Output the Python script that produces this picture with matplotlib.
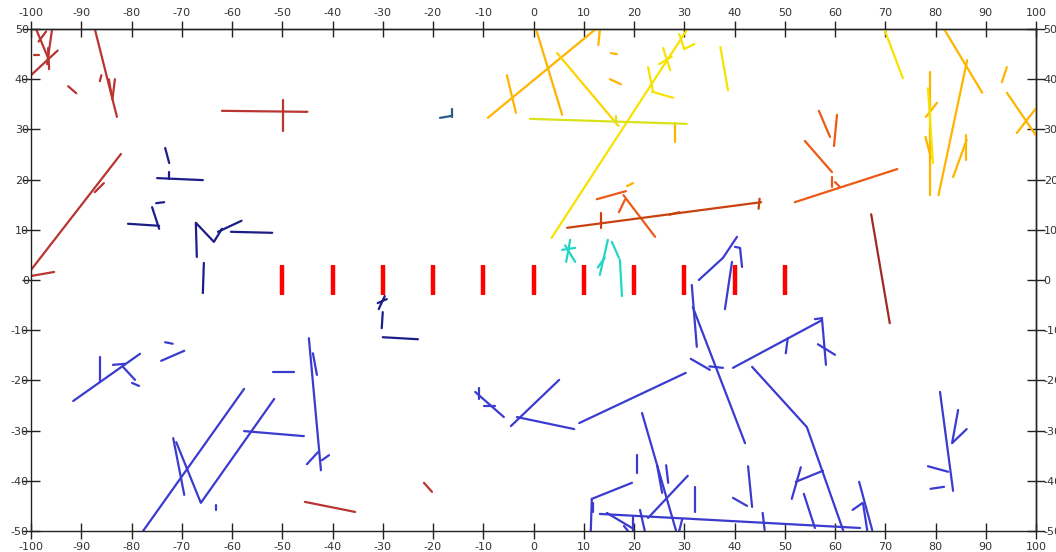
import matplotlib.pyplot as plt
import numpy as np
from matplotlib.collections import LineCollection

plt.rcParams["axes.unicode_minus"] = False
plt.rcParams["font.family"] = "DejaVu Sans"

# -----------------------------------------------------------------------------
# Data: polylines in data coordinates, grouped by colour
# -----------------------------------------------------------------------------
darkred_lines = [
    [(-100, 40.8), (-94.7, 45.7)],
    [(-96.6, 46.2), (-96.4, 42.0)],
    [(-99.0, 50.0), (-96.5, 44.0)],
    [(-95.8, 50.0), (-96.8, 43.0)],
    [(-98.5, 47.5), (-97.0, 49.5)],
    [(-99.5, 44.8), (-98.5, 44.8)],
    [(-87.3, 50.0), (-82.9, 32.5)],
    [(-84.5, 40.0), (-84.0, 37.0)],
    [(-83.3, 40.0), (-83.8, 36.0)],
    [(-86.3, 39.6), (-86.0, 40.8)],
    [(-92.6, 38.6), (-91.0, 37.2)],
    [(-62.0, 33.7), (-45.0, 33.5)],
    [(-49.8, 35.9), (-49.8, 29.7)],
    [(-100, 2.0), (-82.1, 25.1)],
    [(-87.3, 17.5), (-85.5, 19.3)],
    [(-100, 0.8), (-95.4, 1.6)],
    [(-45.5, -44.2), (-35.5, -46.2)],
    [(-21.8, -40.4), (-20.2, -42.2)],
]
maroon_lines = [
    [(67.2, 13.1), (70.9, -8.6)],
]
navy_lines = [
    [(-73.3, 26.3), (-72.5, 23.3)],
    [(-74.9, 20.3), (-65.8, 19.9)],
    [(-72.5, 21.5), (-72.5, 20.2)],
    [(-80.7, 11.2), (-74.5, 10.8)],
    [(-75.9, 14.5), (-74.5, 10.2)],
    [(-75.1, 15.3), (-73.5, 15.5)],
    [(-67.0, 4.6), (-67.2, 11.4), (-63.6, 7.6), (-62.0, 10.2)],
    [(-62.8, 9.6), (-58.1, 11.8)],
    [(-60.2, 9.6), (-52.0, 9.4)],
    [(-65.6, 3.4), (-65.8, -2.6)],
    [(-29.6, -3.2), (-30.8, -5.8)],
    [(-31.0, -4.6), (-29.2, -3.8)],
    [(-30.0, -6.4), (-30.2, -9.6)],
    [(-30.0, -11.4), (-23.0, -11.8)],
]
steel_lines = [
    [(-18.6, 32.3), (-16.2, 32.7)],
    [(-16.2, 34.0), (-16.2, 32.5)],
]
teal_lines = [
    [(6.3, 6.9), (8.3, 3.6)],
    [(7.3, 8.0), (6.5, 3.6)],
    [(5.7, 6.0), (8.3, 6.4)],
    [(14.8, 8.0), (13.2, 1.0)],
    [(12.8, 2.5), (14.2, 4.5)],
    [(15.6, 7.6), (17.0, 4.4)],
    [(17.2, 4.0), (17.6, -3.2)],
]
orange_lines = [
    [(0.5, 50.0), (5.7, 32.9)],
    [(-9.1, 32.3), (12.4, 50.0)],
    [(-5.3, 40.8), (-3.5, 33.3)],
    [(13.2, 49.8), (12.9, 46.8)],
    [(15.4, 45.2), (16.6, 45.0)],
    [(15.2, 40.0), (17.4, 39.0)],
    [(28.2, 31.3), (28.2, 27.5)],
    [(18.6, 18.7), (19.8, 19.3)],
    [(81.7, 50.0), (89.3, 37.3)],
    [(78.9, 41.5), (78.9, 16.9)],
    [(86.3, 43.8), (80.6, 16.9)],
    [(78.1, 32.5), (80.3, 35.3)],
    [(78.0, 28.5), (79.1, 24.3)],
    [(83.5, 20.5), (86.2, 27.9)],
    [(86.1, 28.9), (86.1, 23.9)],
    [(94.2, 42.4), (93.2, 39.4)],
    [(94.2, 37.3), (100, 28.8)],
    [(96.2, 29.3), (100, 34.2)],
]
gold_lines = [
    [(4.7, 45.2), (16.9, 30.7)],
]
yellow_lines = [
    [(3.6, 8.4), (30.5, 49.8)],
    [(22.8, 42.4), (23.8, 37.5)],
    [(23.6, 37.5), (27.8, 36.3)],
    [(25.8, 46.2), (27.2, 41.8)],
    [(25.0, 43.0), (27.5, 44.5)],
    [(37.2, 46.4), (38.7, 37.8)],
    [(69.8, 50.0), (73.5, 40.2)],
    [(78.5, 38.2), (79.5, 23.3)],
    [(29.0, 49.0), (30.0, 46.0)],
    [(30.0, 46.0), (32.0, 47.0)],
]
lime_lines = [
    [(-0.7, 32.1), (30.5, 31.1)],
    [(16.5, 32.6), (16.5, 31.6)],
]
orangered_lines = [
    [(12.6, 16.1), (18.4, 17.7)],
    [(17.9, 16.9), (24.2, 8.6)],
    [(18.2, 16.0), (17.0, 13.5)],
    [(52.0, 15.5), (72.4, 22.1)],
    [(54.0, 27.7), (59.4, 21.5)],
    [(56.8, 33.7), (59.0, 28.5)],
    [(60.4, 32.9), (59.8, 26.7)],
    [(59.4, 20.5), (59.4, 18.5)],
    [(60.0, 19.5), (61.0, 18.5)],
]
rust_lines = [
    [(6.7, 10.4), (45.3, 15.5)],
    [(13.4, 13.3), (13.4, 10.4)],
    [(45.0, 16.2), (44.8, 14.2)],
    [(27.0, 13.0), (29.0, 13.5)],
]
blue_lines = [
    [(-91.6, -24.1), (-78.3, -14.7)],
    [(-86.3, -15.3), (-86.3, -20.3)],
    [(-83.7, -16.9), (-81.3, -16.7)],
    [(-81.7, -17.3), (-79.3, -19.9)],
    [(-79.9, -20.5), (-78.5, -21.1)],
    [(-74.1, -16.1), (-69.5, -14.1)],
    [(-73.3, -12.4), (-71.8, -12.7)],
    [(-77.7, -50.0), (-57.6, -21.7)],
    [(-71.7, -31.5), (-69.5, -42.8)],
    [(-71.1, -32.3), (-66.2, -44.4), (-51.6, -23.7)],
    [(-57.6, -30.1), (-45.7, -31.1)],
    [(-51.8, -18.3), (-47.7, -18.3)],
    [(-44.7, -11.6), (-42.3, -37.9)],
    [(-43.9, -14.6), (-43.1, -18.9)],
    [(-45.1, -36.7), (-42.9, -34.3)],
    [(-42.1, -35.9), (-40.7, -34.9)],
    [(-63.2, -44.8), (-63.2, -45.8)],
    [(-11.6, -22.3), (-5.9, -27.3)],
    [(-10.9, -21.5), (-10.9, -23.8)],
    [(-9.8, -25.0), (-7.6, -25.0)],
    [(-4.5, -29.1), (5.1, -19.9)],
    [(-3.3, -27.3), (8.1, -29.7)],
    [(9.1, -28.5), (30.3, -18.5)],
    [(31.3, -15.7), (35.1, -17.9)],
    [(35.0, -17.2), (37.7, -17.5)],
    [(31.7, -5.4), (42.1, -32.5)],
    [(31.5, -1.0), (32.5, -13.3)],
    [(32.9, 0.0), (37.7, 4.4), (40.5, 8.6)],
    [(40.1, 6.6), (41.1, 6.4), (41.5, 2.6)],
    [(39.5, 3.6), (38.1, -5.8)],
    [(39.7, -17.5), (57.4, -8.0)],
    [(50.6, -11.6), (50.2, -14.6)],
    [(57.4, -7.6), (58.2, -16.9)],
    [(56.6, -12.8), (60.0, -14.9)],
    [(56.0, -7.8), (57.4, -7.6)],
    [(43.5, -17.3), (54.4, -29.3), (61.6, -49.8)],
    [(42.7, -37.1), (43.5, -45.2)],
    [(39.7, -43.4), (42.5, -45.0)],
    [(53.2, -37.3), (51.4, -43.6)],
    [(52.2, -40.2), (57.6, -38.0)],
    [(53.8, -42.6), (56.0, -49.4)],
    [(64.8, -40.2), (67.4, -49.8)],
    [(63.5, -45.8), (65.5, -44.4)],
    [(65.6, -44.6), (66.4, -49.8)],
    [(80.9, -22.3), (83.5, -42.0)],
    [(84.5, -25.9), (83.3, -32.5), (86.2, -29.7)],
    [(78.5, -37.1), (82.5, -38.2)],
    [(79.0, -41.6), (81.7, -41.2)],
    [(13.2, -46.6), (65.0, -49.4)],
    [(11.6, -43.6), (11.4, -50.0)],
    [(11.6, -43.6), (19.6, -40.4)],
    [(20.6, -34.9), (20.6, -38.4)],
    [(21.6, -26.5), (28.5, -50.4)],
    [(24.6, -36.9), (25.6, -42.4)],
    [(26.4, -36.9), (26.8, -40.4)],
    [(30.7, -39.0), (22.8, -47.4)],
    [(14.6, -46.4), (19.6, -49.4)],
    [(21.2, -45.8), (22.2, -50.2)],
    [(19.8, -47.2), (19.8, -50.0)],
    [(32.1, -41.2), (32.1, -46.2)],
    [(45.6, -46.4), (46.0, -49.8)],
    [(29.6, -47.6), (29.0, -50.0)],
    [(18.0, -49.0), (18.8, -50.0)],
    [(11.9, -44.5), (11.9, -46.2)],
]

# red bar markers along y = 0
marker_x = [-50, -40, -30, -20, -10, 0, 10, 20, 30, 40, 50]
marker_half = 3.0

groups = [
    (darkred_lines, "#b83532"),
    (maroon_lines, "#a32828"),
    (navy_lines, "#1d1d88"),
    (steel_lines, "#285a8c"),
    (teal_lines, "#22d6c6"),
    (orange_lines, "#ffb400"),
    (gold_lines, "#ffd200"),
    (yellow_lines, "#f6e400"),
    (lime_lines, "#d9e21a"),
    (orangered_lines, "#ec5a16"),
    (rust_lines, "#c8420e"),
    (blue_lines, "#3b3bd0"),
]

# -----------------------------------------------------------------------------
# Figure
# -----------------------------------------------------------------------------
fig = plt.figure(figsize=(10.56, 5.52), dpi=100)
ax = fig.add_axes([31 / 1056, 21 / 552, 1005 / 1056, 502 / 552])
ax.set_xlim(-100, 100)
ax.set_ylim(-50, 50)

for lines, color in groups:
    ax.add_collection(LineCollection(lines, colors=color, linewidths=1.6,
                                     capstyle="round", joinstyle="round"))

ax.vlines(marker_x, -marker_half, marker_half, colors="#ff0000", linewidth=3.2)

for sp in ax.spines.values():
    sp.set_color("#222222")
    sp.set_linewidth(1.0)

ticks_x = np.arange(-100, 101, 10)
ticks_y = np.arange(-50, 51, 10)
lab_kw = dict(labelsize=8, labelcolor="#333333", color="#222222", width=1.0)

ax.set_xticks(ticks_x)
ax.set_yticks(ticks_y)
ax.tick_params(axis="x", direction="inout", length=12, pad=2, **lab_kw)
ax.tick_params(axis="y", direction="inout", length=13, pad=-5, **lab_kw)

top = ax.secondary_xaxis("top")
top.set_xticks(ticks_x)
top.tick_params(direction="inout", length=12, pad=2, **lab_kw)
right = ax.secondary_yaxis("right")
right.set_yticks(ticks_y)
right.tick_params(direction="inout", length=13, pad=-1, **lab_kw)
for sec in (top, right):
    for sp in sec.spines.values():
        sp.set_color("#222222")
        sp.set_linewidth(1.0)

fig.savefig("out.png", dpi=100, facecolor="white")
